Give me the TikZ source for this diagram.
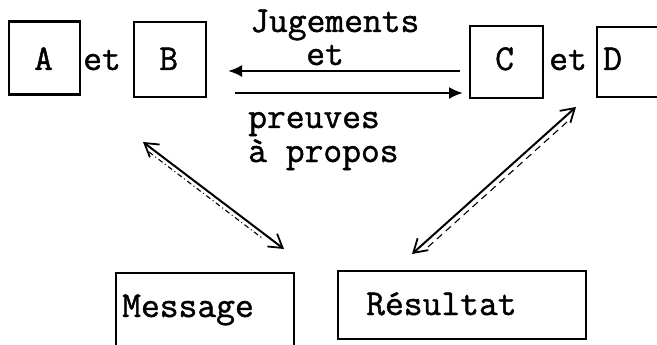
\documentclass[tikz,border=0pt]{standalone}
\usepackage{fontspec}
\setmonofont{Latin Modern Mono}[FakeBold=1.2]
\usetikzlibrary{arrows.meta}
\begin{document}
\begin{tikzpicture}[x=1pt,y=-1pt,
  every node/.style={font=\fontsize{36.5}{38}\ttfamily},
  box/.style={draw, line width=2.2pt, inner sep=0pt},
  edge/.style={line width=2.2pt},
  lbl/.style={anchor=base west, inner sep=0pt},
  flat/.style={line width=2.2pt, -{Latex[length=14pt,width=12pt]}},
  diag/.style={line width=2pt, {Straight Barb[length=13pt,width=16pt,line width=1.8pt]}-{Straight Barb[length=13pt,width=16pt,line width=1.8pt]}},
  companion/.style={line width=1.1pt}]
\useasboundingbox (0,0) rectangle (657,345);
\clip (0,0) rectangle (657,345);
% boxes
\node[box, minimum width=71pt, minimum height=73pt] (A) at (44.5,58) {};
\node[box, minimum width=72pt, minimum height=75pt] (B) at (170,59.5) {};
\node[box, minimum width=73pt, minimum height=72pt] (C) at (506.5,62) {};
\node[inner sep=0pt, minimum width=80pt, minimum height=70pt, anchor=west] (D) at (597,62) {};
\draw[edge] (D.north east) -- (D.north west) -- (D.south west) -- (D.south east);
\node[lbl] (tA) at (34,70) {A};
\node[lbl] (tB) at (159,70) {B};
\node[lbl] (tC) at (495,70) {C};
\node[lbl] (tD) at (603,70) {D};
\node[lbl] (et1) at (83,70) {et};
\node[lbl] (et2) at (549,70) {et};
% middle texts
\node[lbl] (jug) at (250,32) {Jugements};
\node[lbl] (etm) at (306,65) {et};
\node[lbl] (pre) at (248,128) {preuves};
\node[lbl] (apr) at (248,162) {à propos};
% bottom boxes
\node[box, anchor=north west, minimum width=178pt, minimum height=82pt] (M) at (115,272) {};
\node[lbl] (tM) at (122,317) {Message};
\node[box, anchor=north west, minimum width=248pt, minimum height=68pt] (R) at (337,270) {};
\node[lbl] (tR) at (366,315) {Résultat};
% arrow end coordinates
\coordinate (u1) at (460,71);
\coordinate (u2) at (228,71);
\coordinate (l1) at (235,93);
\coordinate (l2) at (463,93);
\coordinate (d1) at (143,142);
\coordinate (d2) at (284,249);
\coordinate (e1) at (576,107);
\coordinate (e2) at (412,254);
\coordinate (c1) at (149,152);
\coordinate (c2) at (262,238);
\coordinate (k1) at (567,122);
\coordinate (k2) at (428,247);
% connectors
\draw[flat] (u1) -- (u2);
\draw[flat] (l1) -- (l2);
\draw[diag] (d1) -- (d2);
\draw[diag] (e1) -- (e2);
\draw[companion, dash pattern=on 5pt off 3pt on 1pt off 3pt] (c1) -- (c2);
\draw[companion, dash pattern=on 7pt off 5pt] (k1) -- (k2);
\end{tikzpicture}
\end{document}
